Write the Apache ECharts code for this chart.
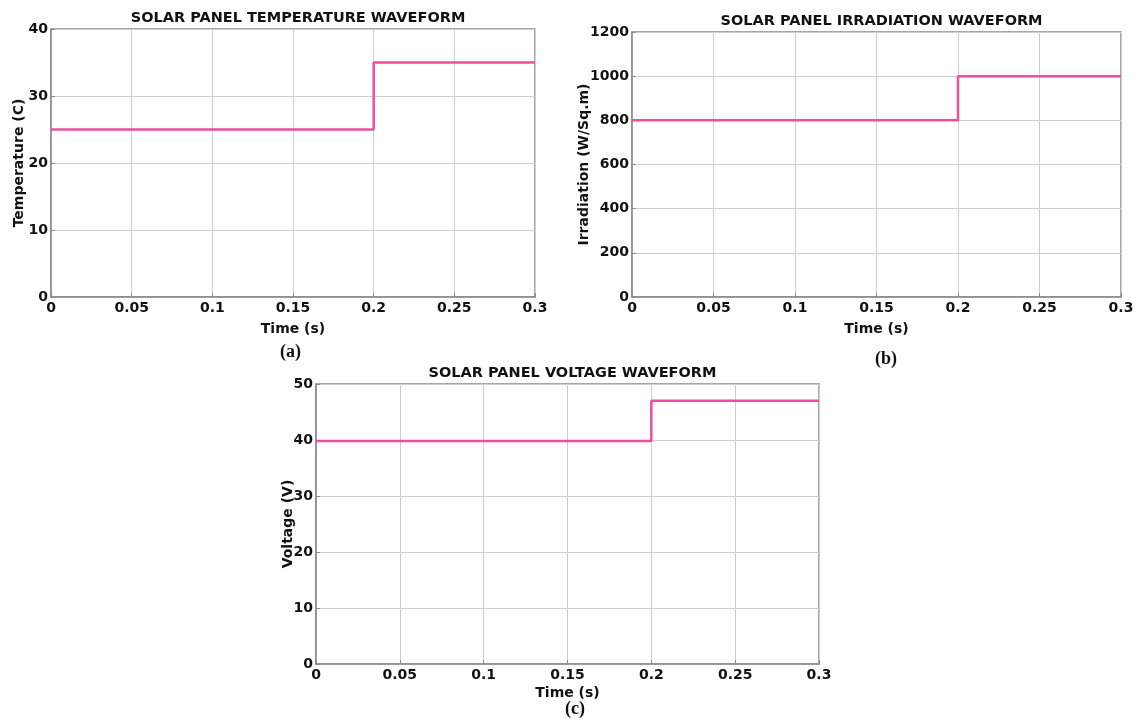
<!DOCTYPE html>
<html>
<head>
<meta charset="utf-8">
<script src="https://cdn.jsdelivr.net/npm/echarts@6/dist/echarts.min.js"></script>
<style>
html,body{margin:0;padding:0;background:#fff;}
#c{width:1137px;height:722px;}
</style>
</head>
<body>
<div id="c"></div>
<script>
// ---- data ----
const timeTemp = [0, 0.2, 0.2, 0.3];
const temperature = [25, 25, 35, 35];
const timeIrr = [0, 0.2, 0.2, 0.3];
const irradiation = [800, 800, 1000, 1000];
const timeVolt = [0, 0.2, 0.2, 0.3];
const voltage = [39.8, 39.8, 47, 47];

const titles = ['SOLAR PANEL TEMPERATURE WAVEFORM', 'SOLAR PANEL IRRADIATION WAVEFORM', 'SOLAR PANEL VOLTAGE WAVEFORM'];
const yNames = ['Temperature (C)', 'Irradiation (W/Sq.m)', 'Voltage (V)'];
const xName = 'Time (s)';
const panelLabels = ['(a)', '(b)', '(c)'];
const yMax = [40, 1200, 50];
const yInterval = [10, 200, 10];

// ---- layout ----
const grids = [
  {left: 51, top: 29, width: 484, height: 268},
  {left: 632, top: 32, width: 489, height: 265},
  {left: 316, top: 384, width: 503, height: 280}
];
const yNameGaps = [25, 41, 21];
const FONT = '"DejaVu Sans", Verdana, sans-serif';
const LINE = '#ec4f9f';

function pairs(xs, ys){ return xs.map((x,i)=>[x, ys[i]]); }
const seriesData = [pairs(timeTemp, temperature), pairs(timeIrr, irradiation), pairs(timeVolt, voltage)];

const option = {
  backgroundColor: '#fff',
  animation: false,
  title: grids.map((g,i)=>({
    text: titles[i],
    left: g.left + g.width/2,
    textAlign: 'center',
    top: g.top - 23,
    textStyle: {fontFamily: FONT, fontWeight: 'bold', fontSize: 14.5, color: '#111'}
  })),
  grid: grids.map(g=>Object.assign({show: true, borderColor: '#8a8a8a', borderWidth: 1.5, backgroundColor: '#fff'}, g)),
  xAxis: grids.map((g,i)=>({
    type: 'value', gridIndex: i, min: 0, max: 0.3, interval: 0.05,
    name: xName, nameLocation: 'middle', nameGap: i===2 ? 22 : 25,
    nameTextStyle: {fontFamily: FONT, fontWeight: 'bold', fontSize: 14, color: '#111'},
    axisLine: {show: true, lineStyle: {color: '#8a8a8a', width: 1.5}},
    axisTick: {show: true, inside: true, length: 4, lineStyle: {color: '#8a8a8a'}},
    axisLabel: {fontFamily: FONT, fontWeight: 'bold', fontSize: 14, color: '#111', margin: 4,
      formatter: v => String(+v.toFixed(2))},
    splitLine: {show: true, lineStyle: {color: '#cfcfcf', width: 1}}
  })),
  yAxis: grids.map((g,i)=>({
    type: 'value', gridIndex: i, min: 0, max: yMax[i], interval: yInterval[i],
    name: yNames[i], nameLocation: 'middle', nameGap: yNameGaps[i], nameMoveOverlap: false,
    nameTextStyle: {fontFamily: FONT, fontWeight: 'bold', fontSize: 14, color: '#111'},
    axisLine: {show: true, lineStyle: {color: '#8a8a8a', width: 1.5}},
    axisTick: {show: true, inside: true, length: 4, lineStyle: {color: '#8a8a8a'}},
    axisLabel: {fontFamily: FONT, fontWeight: 'bold', fontSize: 14, color: '#111', margin: 3,
      formatter: v => String(v)},
    splitLine: {show: true, lineStyle: {color: '#cfcfcf', width: 1}}
  })),
  series: seriesData.map((d,i)=>({
    type: 'line', xAxisIndex: i, yAxisIndex: i, data: d,
    showSymbol: false, symbol: 'none',
    lineStyle: {color: LINE, width: 2.5}
  })),
  graphic: [
    {type: 'text', left: 280, top: 343, style: {text: panelLabels[0], font: 'bold 18px "Liberation Serif", serif', fill: '#111'}},
    {type: 'text', left: 875, top: 350, style: {text: panelLabels[1], font: 'bold 18px "Liberation Serif", serif', fill: '#111'}},
    {type: 'text', left: 565, top: 700, style: {text: panelLabels[2], font: 'bold 18px "Liberation Serif", serif', fill: '#111'}}
  ]
};

echarts.init(document.getElementById('c')).setOption(option);
</script>
</body>
</html>
